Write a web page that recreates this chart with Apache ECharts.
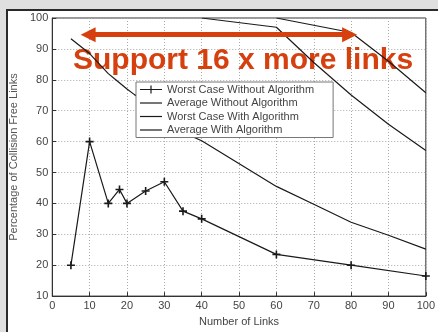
<!DOCTYPE html>
<html><head><meta charset="utf-8">
<script src="https://cdn.jsdelivr.net/npm/echarts@6/dist/echarts.min.js"></script>
<style>html,body{margin:0;padding:0;background:#dfdfdf;}#c{width:438px;height:332px;}</style>
</head><body><div id="c"></div>
<script>
const seriesNames = ['Worst Case Without Algorithm','Average Without Algorithm','Worst Case With Algorithm','Average With Algorithm'];
const worstWithout = [[5,20],[10,60],[15,40],[18,44.5],[20,40],[25,44],[30,47],[35,37.5],[40,35],[60,23.5],[80,20],[100,16.5]];
const avgWithout = [[5,93.3],[10,88.5],[15,82],[17,80],[20,77],[22,75.2],[25,73],[30,68],[35,63],[40,60.3],[60,45.5],[70,39.7],[80,33.9],[90,29.7],[100,25.2]];
const worstWith = [[40,100],[60,97],[70,85.6],[80,75.1],[90,65.6],[100,57.1]];
const avgWith = [[60,100],[80,95.3],[90,86],[100,75.8]];
const xTicks = [0,10,20,30,40,50,60,70,80,90,100];
const yTicks = [10,20,30,40,50,60,70,80,90,100];
const arrowSpan = [[9.6,94.6],[79.6,94.6]];
const headline = 'Support 16 x more links';

const orange = '#d5400e';
const plus = 'path://M4,0h2v4h4v2h-4v4h-2v-4h-4v-2h4z';
const iconLine = 'path://M0,0L0,0M0,4.4h22v1.2h-22zM22,10L22,10';
const iconLinePlus = 'path://M0,0L0,0M0,4.4h22v1.2h-22zM10.4,1h1.2v8h-1.2zM22,10L22,10';
const chart = echarts.init(document.getElementById('c'));
const lineBase = {type:'line', symbol:'none', lineStyle:{color:'#1a1a1a', width:1.2}, itemStyle:{color:'#1a1a1a'}, animation:false, z:2};
chart.setOption({
  animation:false,
  textStyle:{fontFamily:'Arial, "Liberation Sans", sans-serif'},
  graphic:[{type:'rect', shape:{x:7, y:10, width:440, height:330}, style:{fill:'#ffffff', stroke:'#2a2a2a', lineWidth:2}, z:-10, silent:true}],
  title:{text:headline, left:73, top:46, padding:0, z:1,
    textStyle:{color:orange, fontSize:30, fontWeight:'bold', fontFamily:'Arial, "Liberation Sans", sans-serif'}},
  grid:{left:51, top:18, right:8, bottom:30, show:true, borderColor:'#333', borderWidth:1, backgroundColor:'#fff', z:0},
  legend:{orient:'vertical', left:136, top:82, padding:[2,19,2,4], itemWidth:22, itemHeight:10, itemGap:2.5,
    backgroundColor:'#fff', borderColor:'#777', borderWidth:1, z:5,
    textStyle:{fontSize:11, color:'#444', lineHeight:10},
    data:[{name:seriesNames[0], icon:iconLinePlus},{name:seriesNames[1], icon:iconLine},{name:seriesNames[2], icon:iconLine},{name:seriesNames[3], icon:iconLine}]},
  xAxis:{type:'value', min:xTicks[0], max:xTicks[xTicks.length-1], interval:10,
    name:'Number of Links', nameLocation:'middle', nameGap:19, nameTextStyle:{fontSize:11, color:'#444'},
    axisLine:{show:true, lineStyle:{color:'#333'}}, axisTick:{show:true, inside:true, length:4, lineStyle:{color:'#333'}},
    axisLabel:{fontSize:11, color:'#444', margin:4},
    splitLine:{show:true, lineStyle:{color:'#aaa', type:[1,2]}}},
  yAxis:{type:'value', min:yTicks[0], max:yTicks[yTicks.length-1], interval:10,
    name:'Percentage of Collision Free Links', nameLocation:'middle', nameGap:24, nameTextStyle:{fontSize:11, color:'#555'},
    axisLine:{show:true, lineStyle:{color:'#333'}}, axisTick:{show:true, inside:true, length:4, lineStyle:{color:'#333'}},
    axisLabel:{fontSize:11, color:'#444', margin:4},
    splitLine:{show:true, lineStyle:{color:'#aaa', type:[1,2]}}},
  series:[
    Object.assign({}, lineBase, {name:seriesNames[0], data:worstWithout, symbol:plus, symbolSize:8, showSymbol:true}),
    Object.assign({}, lineBase, {name:seriesNames[1], data:avgWithout}),
    Object.assign({}, lineBase, {name:seriesNames[2], data:worstWith}),
    Object.assign({}, lineBase, {name:seriesNames[3], data:avgWith,
      markLine:{silent:true, symbol:['triangle','triangle'], symbolSize:[15,15], label:{show:false},
        lineStyle:{color:orange, width:5, type:'solid'}, emphasis:{disabled:true},
        data:[[{coord:arrowSpan[0]},{coord:arrowSpan[1]}]]}})
  ]
});
</script></body></html>
